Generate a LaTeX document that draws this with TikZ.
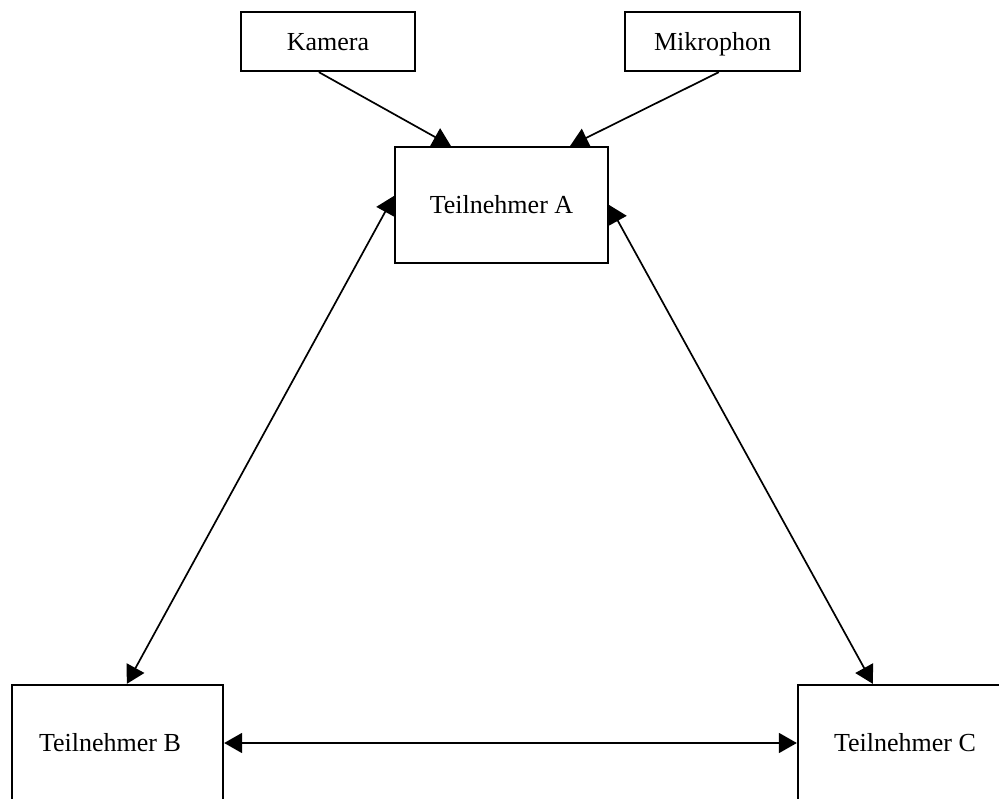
\documentclass[tikz,border=0pt]{standalone}
\usepackage{fontspec}
\setmainfont{Liberation Serif}
\usetikzlibrary{arrows.meta,calc}
\begin{document}
\begin{tikzpicture}[x=1pt,y=-1pt,
  box/.style={draw,line width=2.3pt,rectangle,inner sep=0pt,
    text height=21pt,text depth=3pt,
    font=\fontsize{26}{30}\selectfont},
  lbl/.style={inner sep=0pt,text height=21pt,text depth=3pt,
    font=\fontsize{26}{30}\selectfont},
  link/.style={line width=1.7pt,-{Triangle[length=18pt,width=20pt]}},
  dlink/.style={line width=1.7pt,{Triangle[length=18pt,width=20pt]}-{Triangle[length=18pt,width=20pt]}}]
\useasboundingbox (0,0) rectangle (999,799);
\clip (0,0) rectangle (999,799);

% devices and participants
\node[box,minimum width=174pt,minimum height=59pt] (kam) at (328,41.5) {Kamera};
\node[box,minimum width=175pt,minimum height=59pt] (mik) at (712.5,41.5) {Mikrophon};
\node[box,minimum width=213pt,minimum height=116pt] (A) at (501.5,205) {Teilnehmer A};
\node[box,minimum width=211pt,minimum height=130pt] (B) at (117.5,750) {};
\node[box,minimum width=212pt,minimum height=130pt] (C) at (904,750) {};
\node[lbl] (Bt) at (110,742) {Teilnehmer B};
\node[lbl] (Ct) at (905,742) {Teilnehmer C};

% inputs to participant A
\draw[link] ($(kam.south west)+(79,0)$) -- ($(A.north west)+(57,0)$);
\draw[link] ($(mik.south west)+(95,0)$) -- ($(A.north east)+(-39,0)$);

% connections between participants
\draw[dlink] ($(A.west)+(0,-9)$) -- ($(B.north west)+(116,0)$);
\draw[dlink] (A.east) -- ($(C.north west)+(76,0)$);
\draw[dlink] ($(B.east)+(0,-7)$) -- ($(C.west)+(0,-7)$);
\end{tikzpicture}
\end{document}
